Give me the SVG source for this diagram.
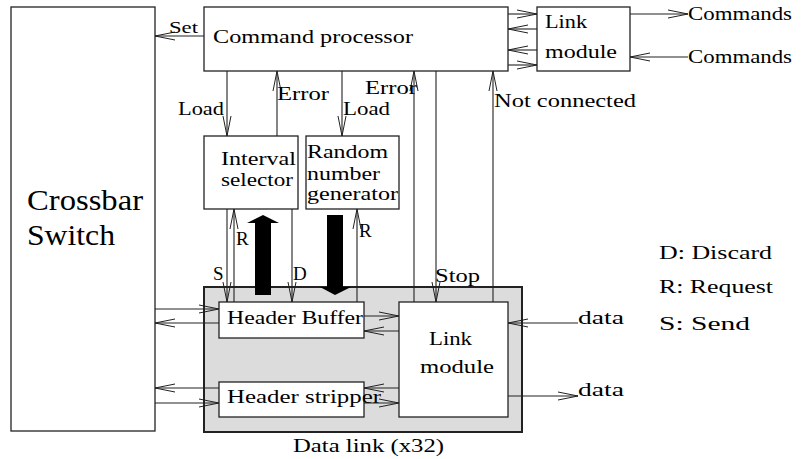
<svg xmlns="http://www.w3.org/2000/svg" width="801" height="459" viewBox="0 0 801 459" font-family="Liberation Serif, DejaVu Serif, serif">
<defs>
<marker id="a" viewBox="0 0 20 10" refX="20" refY="5" markerWidth="20" markerHeight="10" markerUnits="userSpaceOnUse" orient="auto">
<path d="M0,1 L20,5 L0,9" fill="none" stroke="#222" stroke-width="1"/>
</marker>
</defs>
<style>
.box{fill:#fff;stroke:#222;stroke-width:1.3}
.t{font-size:19px;fill:#000}
.s{font-size:16px;fill:#000}
.c{fill:none;stroke:#222;stroke-width:1.1;marker-end:url(#a)}
</style>
<rect width="801" height="459" fill="#fff"/>
<g id="crossbar"><rect class="box" x="11" y="7" width="144" height="424"/>
<text class="t" font-family="Liberation Serif" style="font-size:29px" x="27" y="210" textLength="116" lengthAdjust="spacingAndGlyphs">Crossbar</text>
<text class="t" font-family="Liberation Serif" style="font-size:29px" x="27" y="245" textLength="88" lengthAdjust="spacingAndGlyphs">Switch</text></g>
<g id="command-processor"><rect class="box" x="204" y="7" width="304" height="64"/>
<text class="t" x="213" y="43" textLength="200" lengthAdjust="spacingAndGlyphs">Command processor</text></g>
<g id="link-module-top"><rect class="box" x="537" y="7" width="93" height="64"/>
<text class="t" x="545" y="28" textLength="42" lengthAdjust="spacingAndGlyphs">Link</text>
<text class="t" x="545" y="58" textLength="72" lengthAdjust="spacingAndGlyphs">module</text></g>
<g id="interval-selector"><rect class="box" x="204" y="136" width="94" height="73"/>
<text class="t" x="221" y="165" textLength="75" lengthAdjust="spacingAndGlyphs">Interval</text>
<text class="t" x="221" y="186" textLength="72" lengthAdjust="spacingAndGlyphs">selector</text></g>
<g id="random-number-generator"><rect class="box" x="306" y="136" width="93" height="73"/>
<text class="t" x="307" y="158" textLength="81" lengthAdjust="spacingAndGlyphs">Random</text>
<text class="t" x="307" y="180" textLength="73" lengthAdjust="spacingAndGlyphs">number</text>
<text class="t" x="307" y="200" textLength="91" lengthAdjust="spacingAndGlyphs">generator</text></g>
<g id="data-link"><rect x="204" y="287" width="318" height="145" fill="#dcdcdc" stroke="#222" stroke-width="2"/>
<text class="t" x="293" y="452" textLength="151" lengthAdjust="spacingAndGlyphs">Data link (x32)</text></g>
<g id="header-buffer"><rect class="box" x="219" y="302" width="145" height="36"/>
<text class="t" x="227" y="324" textLength="136" lengthAdjust="spacingAndGlyphs">Header Buffer</text></g>
<g id="header-stripper"><rect class="box" x="219" y="382" width="145" height="35"/>
<text class="t" x="227" y="403" textLength="154" lengthAdjust="spacingAndGlyphs">Header stripper</text></g>
<g id="link-module-bottom"><rect class="box" x="399" y="302" width="109" height="115"/>
<text class="t" x="429" y="345" textLength="43" lengthAdjust="spacingAndGlyphs">Link</text>
<text class="t" x="420" y="373" textLength="74" lengthAdjust="spacingAndGlyphs">module</text></g>
<g id="legend">
<text class="t" x="659" y="259" textLength="113" lengthAdjust="spacingAndGlyphs">D: Discard</text>
<text class="t" x="659" y="293" textLength="114" lengthAdjust="spacingAndGlyphs">R: Request</text>
<text class="t" x="659" y="330" textLength="91" lengthAdjust="spacingAndGlyphs">S: Send</text>
</g>
<g id="connectors">
<path class="c" d="M204,36 L155,36"/>
<path class="c" d="M508,14 L537,14"/>
<path class="c" d="M537,29 L508,29"/>
<path class="c" d="M537,50 L508,50"/>
<path class="c" d="M508,65 L537,65"/>
<path class="c" d="M630,14 L688,14"/>
<path class="c" d="M688,57 L630,57"/>
<path class="c" d="M227,71 L227,136"/>
<path class="c" d="M277,136 L277,71"/>
<path class="c" d="M342,71 L342,136"/>
<path class="c" d="M414,302 L414,71"/>
<path class="c" d="M436,71 L436,302"/>
<path class="c" d="M493,302 L493,71"/>
<path class="c" d="M227,209 L227,302"/>
<path class="c" d="M234,302 L234,209"/>
<path class="c" d="M292,209 L292,302"/>
<path class="c" d="M357,302 L357,209"/>
<path class="c" d="M155,309 L219,309"/>
<path class="c" d="M219,323 L155,323"/>
<path class="c" d="M219,388 L155,388"/>
<path class="c" d="M155,403 L219,403"/>
<path class="c" d="M364,316 L399,316"/>
<path class="c" d="M399,331 L364,331"/>
<path class="c" d="M399,388 L364,388"/>
<path class="c" d="M364,403 L399,403"/>
<path class="c" d="M578,323 L508,323"/>
<path class="c" d="M508,396 L578,396"/>
<polygon points="255,295 271,295 271,223 279,223 263,215 247,223 255,223" fill="#000"/>
<polygon points="327,215 343,215 343,287 351,287 335,295 320,287 327,287" fill="#000"/>
<text class="s" x="169" y="33" textLength="29" lengthAdjust="spacingAndGlyphs">Set</text>
<text class="t" x="688" y="20" textLength="104" lengthAdjust="spacingAndGlyphs">Commands</text>
<text class="t" x="688" y="63" textLength="104" lengthAdjust="spacingAndGlyphs">Commands</text>
<text class="t" x="178" y="115" textLength="46" lengthAdjust="spacingAndGlyphs">Load</text>
<text class="t" x="277" y="100" textLength="52" lengthAdjust="spacingAndGlyphs">Error</text>
<text class="t" x="343" y="115" textLength="47" lengthAdjust="spacingAndGlyphs">Load</text>
<text class="t" x="365" y="94" textLength="52" lengthAdjust="spacingAndGlyphs">Error</text>
<text class="t" x="494" y="107" textLength="142" lengthAdjust="spacingAndGlyphs">Not connected</text>
<text class="t" x="236" y="245">R</text>
<text class="t" x="213" y="280">S</text>
<text class="t" x="293" y="280">D</text>
<text class="t" x="359" y="237">R</text>
<text class="t" x="435" y="282" textLength="45" lengthAdjust="spacingAndGlyphs">Stop</text>
<text class="t" x="578" y="324" textLength="46" lengthAdjust="spacingAndGlyphs">data</text>
<text class="t" x="578" y="396" textLength="46" lengthAdjust="spacingAndGlyphs">data</text>
</g>
</svg>
